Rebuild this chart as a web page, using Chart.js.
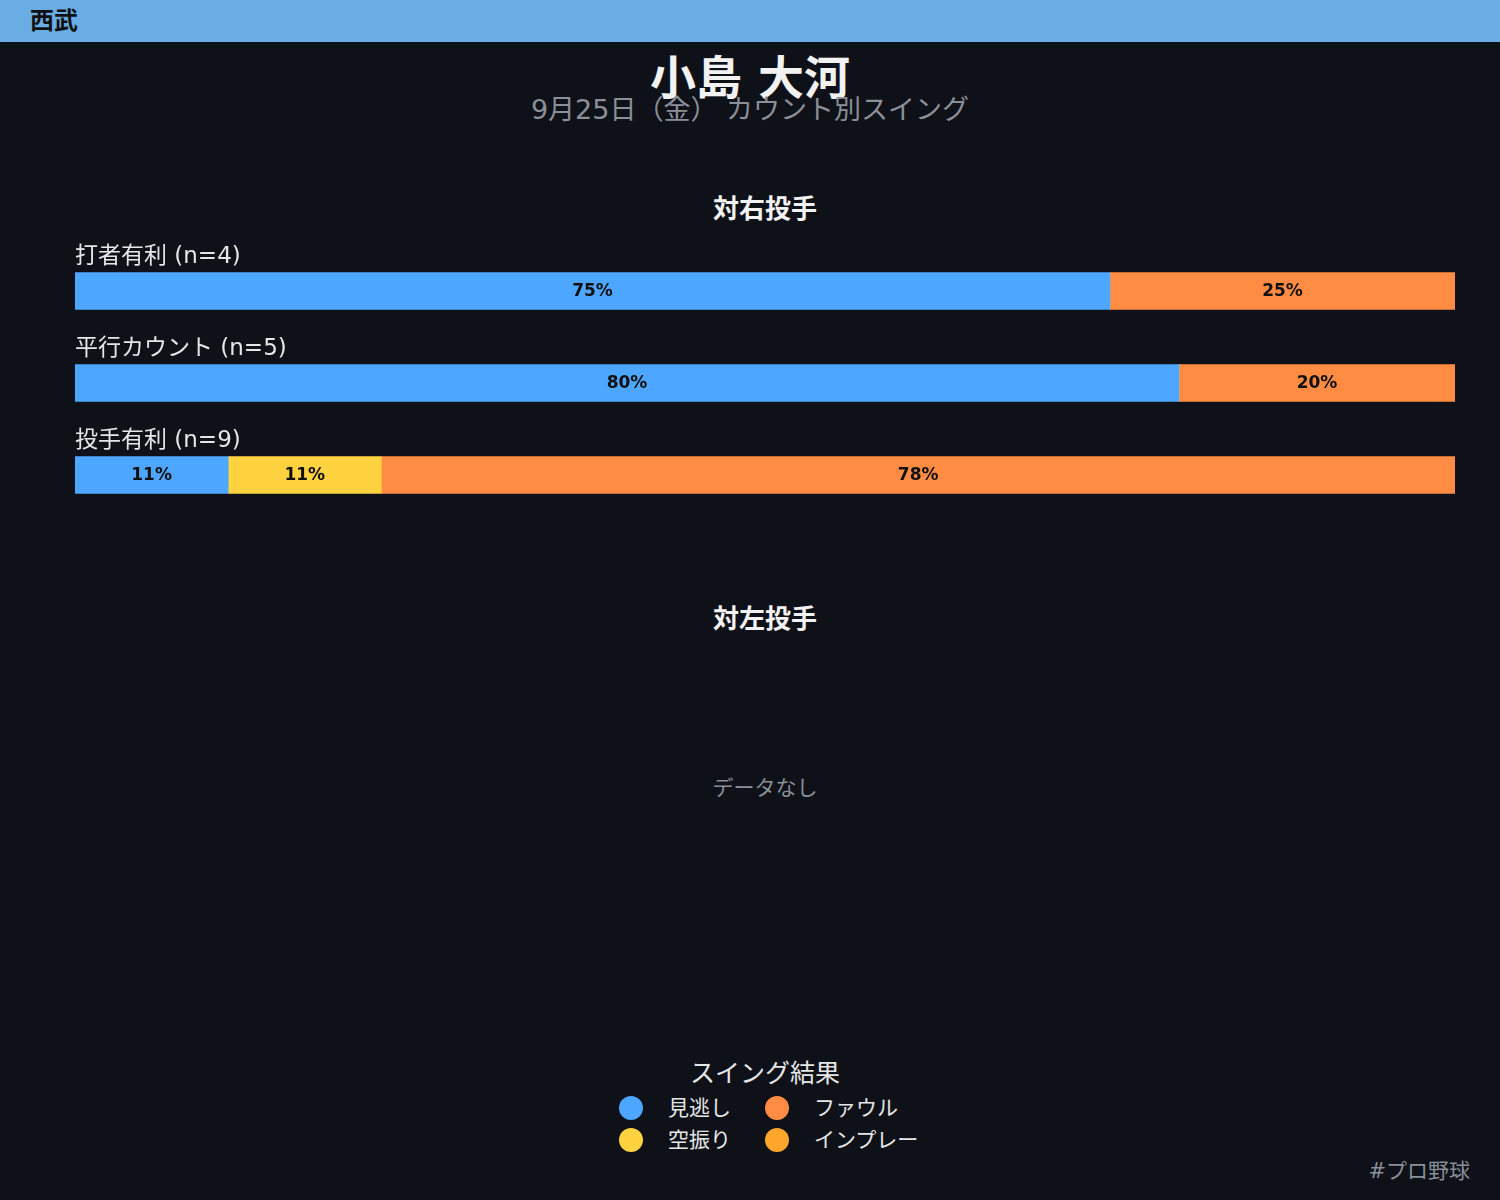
<!DOCTYPE html>
<html><head><meta charset="utf-8">
<script src="https://cdn.jsdelivr.net/npm/chart.js@4"></script>
<style>
html,body{margin:0;padding:0;background:#0e1118;width:1500px;height:1200px;overflow:hidden;font-family:"DejaVu Sans","Noto Sans CJK JP",sans-serif;}
.abs{position:absolute;white-space:nowrap;}
#hdr{position:absolute;left:0;top:0;width:1500px;height:42px;background:#6aade4;}
#hdr span{position:absolute;left:30px;top:0;line-height:42px;font-size:24px;font-weight:bold;color:#111;}
.c{transform:translateX(-50%);text-align:center;}
#legend .item{position:absolute;font-size:21px;color:#e6e6e6;line-height:28px;}
#legend .dot{position:absolute;width:24px;height:24px;border-radius:50%;}
</style></head>
<body>
<div id="hdr"><span>西武</span></div>
<div class="abs c" style="left:750px;top:50px;font-size:46px;font-weight:bold;color:#f2f2f2;line-height:56px;">小島 大河</div>
<div class="abs c" style="left:750px;top:93px;font-size:27px;color:#8a8f98;line-height:34px;">9月25日（金） カウント別スイング</div>
<div class="abs c" style="left:765px;top:193px;font-size:26px;font-weight:bold;color:#f2f2f2;line-height:32px;">対右投手</div>
<div style="position:absolute;left:0;top:231px;width:1500px;height:290px;"><canvas id="c1"></canvas></div>
<div class="abs c" style="left:765px;top:603px;font-size:26px;font-weight:bold;color:#f2f2f2;line-height:32px;">対左投手</div>
<div class="abs c" style="left:765px;top:774px;font-size:21px;color:#8a8f98;line-height:28px;">データなし</div>
<div class="abs c" style="left:765px;top:1058px;font-size:25px;color:#e6e6e6;line-height:32px;">スイング結果</div>
<div id="legend"></div>
<div class="abs" style="right:30px;top:1157px;font-size:21px;color:#8a8f98;line-height:28px;">#プロ野球</div>
<script>
const categories = ["打者有利 (n=4)", "平行カウント (n=5)", "投手有利 (n=9)"];
const seriesNames = ["見逃し", "空振り", "ファウル", "インプレー"];
const miNogashi = [75, 80, 11.1];
const karaburi = [0, 0, 11.1];
const foul = [25, 20, 77.8];
const inplay = [0, 0, 0];
const colors = ["#4da6ff", "#ffd23f", "#ff8c42", "#ffa62b"];
const seriesData = [miNogashi, karaburi, foul, inplay];

const FONT = '"DejaVu Sans","Noto Sans CJK JP",sans-serif';

const labelPlugin = {
  id: 'labels',
  afterDatasetsDraw(chart) {
    const ctx = chart.ctx;
    ctx.save();
    chart.data.datasets.forEach((ds, di) => {
      const meta = chart.getDatasetMeta(di);
      meta.data.forEach((el, i) => {
        const v = ds.data[i];
        if (!v) return;
        const cx = (el.x + el.base) / 2;
        ctx.font = 'bold 17px ' + FONT;
        ctx.fillStyle = '#111111';
        ctx.textAlign = 'center';
        ctx.textBaseline = 'middle';
        ctx.fillText(Math.round(v) + '%', cx, el.y + 1);
      });
    });
    const ys = chart.scales.y;
    chart.data.labels.forEach((lab, i) => {
      const y = ys.getPixelForValue(i);
      ctx.font = '23px ' + FONT;
      ctx.fillStyle = '#e6e6e6';
      ctx.textAlign = 'left';
      ctx.textBaseline = 'middle';
      ctx.fillText(lab, chart.chartArea.left, y - 34);
    });
    ctx.restore();
  }
};

new Chart(document.getElementById('c1'), {
  type: 'bar',
  data: {
    labels: categories,
    datasets: seriesNames.map((n, i) => ({
      label: n, data: seriesData[i], backgroundColor: colors[i],
      barThickness: 37, borderWidth: 0
    }))
  },
  options: {
    indexAxis: 'y',
    responsive: true,
    maintainAspectRatio: false,
    animation: false,
    layout: { padding: { left: 75, right: 45, top: 14, bottom: 0 } },
    plugins: { legend: { display: false }, tooltip: { enabled: false } },
    scales: {
      x: { stacked: true, min: 0, max: 100, display: false },
      y: { stacked: true, display: false }
    }
  },
  plugins: [labelPlugin]
});

// HTML legend built from series arrays
const lg = document.getElementById('legend');
const pos = [[631,1108],[631,1140],[777,1108],[777,1140]];
[0,1,2,3].forEach((si, k) => {
  const [x, y] = pos[k];
  const d = document.createElement('div');
  d.className = 'dot';
  d.style.left = (x - 12) + 'px'; d.style.top = (y - 12) + 'px';
  d.style.background = colors[si];
  lg.appendChild(d);
  const t = document.createElement('div');
  t.className = 'item';
  t.style.left = (x + 37) + 'px'; t.style.top = (y - 14) + 'px';
  t.textContent = seriesNames[si];
  lg.appendChild(t);
});
</script>
</body></html>
